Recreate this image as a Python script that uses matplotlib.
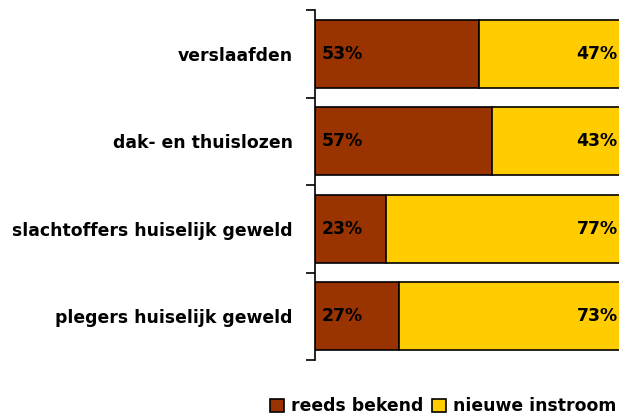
import matplotlib.pyplot as plt
from matplotlib.patches import Patch

categories = ['verslaafden', 'dak- en thuislozen', 'slachtoffers huiselijk geweld', 'plegers huiselijk geweld']
reeds_bekend = [53, 57, 23, 27]
nieuwe_instroom = [47, 43, 77, 73]
series_names = ['reeds bekend', 'nieuwe instroom']
colors = ['#993300', '#FFCC00']

plt.rcParams['font.family'] = ['DejaVu Sans']
plt.rcParams['font.weight'] = 'bold'
fs = 12.4

fig = plt.figure(figsize=(6.19, 4.17), dpi=100)
# bars run past the right edge of the picture, as in the original
ax = fig.add_axes([315 / 619, 1 - 360 / 417, 310 / 619, 350 / 417])

y = list(range(len(categories)))
ax.barh(y, reeds_bekend, height=0.78, color=colors[0], edgecolor='black', linewidth=1.2)
ax.barh(y, nieuwe_instroom, left=reeds_bekend, height=0.78, color=colors[1], edgecolor='black', linewidth=1.2)

for i in y:
    ax.text(2.0, i, f'{reeds_bekend[i]}%', va='center', ha='left', fontsize=fs, fontweight='bold')
    ax.text(97.6, i, f'{nieuwe_instroom[i]}%', va='center', ha='right', fontsize=fs, fontweight='bold')

ax.set_xlim(0, 100)
ax.set_ylim(len(categories) - 0.5, -0.5)
ax.set_yticks(y)
ax.set_yticklabels(categories, fontsize=fs, fontweight='bold')
ax.set_yticks([i - 0.5 for i in range(len(categories) + 1)], minor=True)
ax.tick_params(axis='y', which='major', length=0, pad=16)
ax.tick_params(axis='y', which='minor', length=6.5, width=1.2, direction='out')
ax.set_xticks([])
for s in ['top', 'right', 'bottom']:
    ax.spines[s].set_visible(False)
ax.spines['left'].set_linewidth(1.2)

handles = [Patch(facecolor=c, edgecolor='black', linewidth=1.2) for c in colors]
fig.legend(handles, series_names, loc='lower right', bbox_to_anchor=(1.02, -0.033),
           ncol=2, frameon=False, handlelength=0.8, handleheight=0.8,
           handletextpad=0.4, columnspacing=0.5, prop={'size': fs, 'weight': 'bold'})

fig.savefig('out.png', dpi=100)
